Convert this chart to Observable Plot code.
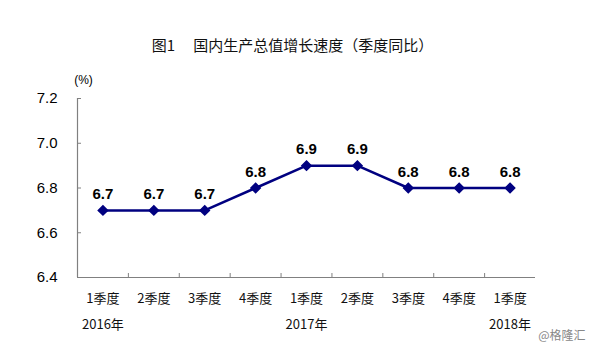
<!DOCTYPE html>
<html>
<head>
<meta charset="utf-8">
<script src="https://cdn.jsdelivr.net/npm/d3@7"></script>
<script src="https://cdn.jsdelivr.net/npm/@observablehq/plot@0.6"></script>
<style>
  html, body { margin: 0; padding: 0; background: #fff; }
  #wrap { width: 597px; height: 352px; position: relative; overflow: hidden; }
  #title { height: 65px; position: relative; }
  #title span { position: absolute; left: 0; width: 585px; text-align: center; top: 36px;
    font-family: "Noto Sans CJK SC", sans-serif; font-size: 15px; line-height: 18px; color: #111; white-space: pre; }
  svg { display: block; }
</style>
</head>
<body>
<div id="wrap">
  <div id="title"><span>图1　 国内生产总值增长速度（季度同比）</span></div>
  <div id="chart"></div>
</div>
<script>
const quarters = ["1季度", "2季度", "3季度", "4季度", "1季度", "2季度", "3季度", "4季度", "1季度"];
const growth = [6.7, 6.7, 6.7, 6.8, 6.9, 6.9, 6.8, 6.8, 6.8];
const years = ["2016年", "2017年", "2018年"];
const yearAt = [0, 4, 8];
const yTicks = [6.4, 6.6, 6.8, 7.0, 7.2];
const unitLabel = "(%)";
const source = "@格隆汇";

const data = quarters.map((q, i) => ({pos: i + 0.5, q, v: growth[i]}));
const yearData = years.map((y, i) => ({pos: yearAt[i] + 0.5, y}));
const boundaries = d3.range(1, quarters.length);

const H = 287, mTop = 33, mBottom = 75;
const frameH = H - mTop - mBottom;
const lineColor = "#000080";
const axisColor = "#808080";
const cjk = "'Noto Sans CJK SC', sans-serif";

const chart = Plot.plot({
  width: 597,
  height: H,
  marginLeft: 77,
  marginRight: 62,
  marginTop: mTop,
  marginBottom: mBottom,
  style: {fontFamily: "'Liberation Sans', Arial, sans-serif", background: "#fff"},
  x: {domain: [0, quarters.length], axis: null},
  y: {domain: [6.4, 7.2], axis: null},
  marks: [
    Plot.ruleX([0], {stroke: axisColor, strokeWidth: 1.2}),
    Plot.ruleY([6.4], {stroke: axisColor, strokeWidth: 1.2}),
    Plot.tickY(yTicks, {y: d => d, stroke: axisColor, insetRight: 597 - 77 - 62 - 4}),
    Plot.tickX(boundaries, {x: d => d, stroke: axisColor, insetTop: frameH - 4}),
    Plot.text(yTicks, {x: 0, y: d => d, text: d => d3.format(".1f")(d), textAnchor: "end", dx: -20, fontSize: 15, fill: "#000"}),
    Plot.text([unitLabel], {frameAnchor: "top-left", text: d => d, dx: 6, dy: -23, textAnchor: "middle", fontSize: 12, fill: "#000"}),
    Plot.line(data, {x: "pos", y: "v", stroke: lineColor, strokeWidth: 2.5}),
    Plot.dot(data, {x: "pos", y: "v", symbol: "diamond2", r: 4.2, fill: lineColor, stroke: lineColor}),
    Plot.text(data, {x: "pos", y: "v", text: d => d3.format(".1f")(d.v), dy: -16, fontSize: 15, fontWeight: "bold", fill: "#000"}),
    Plot.text(data, {x: "pos", y: 6.4, text: "q", dy: 21, fontSize: 13, fill: "#111", fontFamily: cjk}),
    Plot.text(yearData, {x: "pos", y: 6.4, text: "y", dy: 47, fontSize: 13, fill: "#111", fontFamily: cjk}),
    Plot.text([source], {frameAnchor: "bottom-right", text: d => d, dx: 50, dy: 62, textAnchor: "end", fontSize: 12, fill: "#888", fontFamily: cjk})
  ]
});
document.getElementById("chart").appendChild(chart);
</script>
</body>
</html>
